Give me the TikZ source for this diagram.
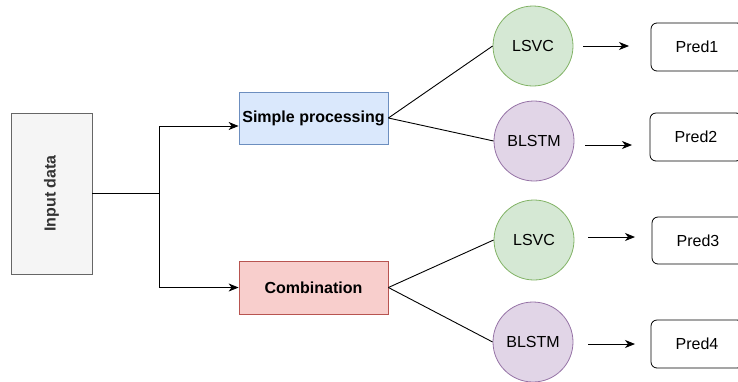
\documentclass[tikz,border=0pt]{standalone}
\usepackage{fontspec}
\setmainfont{Liberation Sans}
\usetikzlibrary{arrows.meta}
\definecolor{grayfill}{HTML}{F5F5F5}
\definecolor{graydraw}{HTML}{666666}
\definecolor{graytext}{HTML}{333333}
\definecolor{bluefill}{HTML}{DAE8FC}
\definecolor{bluedraw}{HTML}{6C8EBF}
\definecolor{redfill}{HTML}{F8CECC}
\definecolor{reddraw}{HTML}{B85450}
\definecolor{greenfill}{HTML}{D5E8D4}
\definecolor{greendraw}{HTML}{82B366}
\definecolor{purplefill}{HTML}{E1D5E7}
\definecolor{purpledraw}{HTML}{9673A6}
\tikzset{
  box/.style={rectangle, draw, line width=0.8pt, inner sep=0pt, font=\fontsize{16}{19}\selectfont\bfseries},
  circ/.style={circle, draw, line width=0.8pt, minimum size=80pt, inner sep=0pt, font=\fontsize{16}{19}\selectfont},
  pred/.style={rectangle, rounded corners=6pt, draw=black, line width=0.8pt, minimum width=92pt, minimum height=48pt, inner sep=0pt, font=\fontsize{16}{19}\selectfont},
  conn/.style={line width=0.9pt, black},
  arr/.style={conn, -{Stealth[length=10pt,width=8pt,inset=3pt]}},
}
\begin{document}
\begin{tikzpicture}[x=1pt,y=-1pt]
\useasboundingbox (0,0) rectangle (738,381);
\node[box, fill=grayfill, draw=graydraw, text=graytext, minimum width=81pt, minimum height=161pt] (input) at (51.5,193.5) {};
\node[rotate=90, font=\fontsize{16}{19}\selectfont\bfseries, text=graytext] (inputlabel) at (input.center) {Input data};
\node[box, fill=bluefill, draw=bluedraw, minimum width=149pt, minimum height=52pt] (simple) at (313.5,118) {Simple processing};
\node[box, fill=redfill, draw=reddraw, minimum width=149pt, minimum height=53pt] (comb) at (313.5,287.5) {Combination};
\node[circ, fill=greenfill, draw=greendraw] (lsvc1) at (533,46) {LSVC};
\node[circ, fill=purplefill, draw=purpledraw] (blstm1) at (534,141) {BLSTM};
\node[circ, fill=greenfill, draw=greendraw] (lsvc2) at (534,240) {LSVC};
\node[circ, fill=purplefill, draw=purpledraw] (blstm2) at (533,342) {BLSTM};
\node[pred] (pred1) at (697,47) {Pred1};
\node[pred] (pred2) at (696,137) {Pred2};
\node[pred, minimum height=47pt] (pred3) at (698,240.5) {Pred3};
\node[pred] (pred4) at (697,344) {Pred4};
\coordinate (split) at (159,193.5);
\coordinate (a1s) at (583,46);  \coordinate (a1e) at (629,46);
\coordinate (a2s) at (585,145); \coordinate (a2e) at (632,145);
\coordinate (a3s) at (588,237); \coordinate (a3e) at (635,237);
\coordinate (a4s) at (588,344); \coordinate (a4e) at (635,344);
\draw[conn] (input.east) -- (split);
\draw[arr] (split) |- ([yshift=-8pt]simple.west);
\draw[arr] (split) |- (comb.west);
\draw[conn] (simple.east) -- (lsvc1.west);
\draw[conn] (simple.east) -- (blstm1.west);
\draw[conn] (comb.east) -- (lsvc2.west);
\draw[conn] (comb.east) -- (blstm2.west);
\draw[arr] (a1s) -- (a1e);
\draw[arr] (a2s) -- (a2e);
\draw[arr] (a3s) -- (a3e);
\draw[arr] (a4s) -- (a4e);
\end{tikzpicture}
\end{document}
